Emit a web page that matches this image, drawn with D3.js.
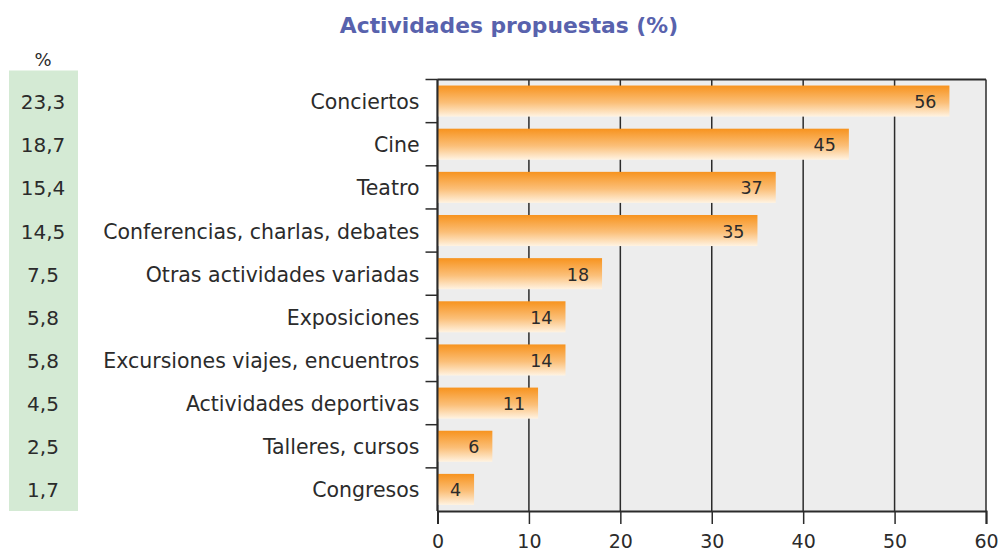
<!DOCTYPE html>
<html>
<head>
<meta charset="utf-8">
<script src="https://cdn.jsdelivr.net/npm/d3@7"></script>
<style>
  body { margin: 0; background: #fff; }
  text { font-family: "DejaVu Sans", sans-serif; fill: #2b2b2b; }
</style>
</head>
<body>
<svg id="chart" width="1003" height="555"></svg>
<script>
const categories = ["Conciertos", "Cine", "Teatro", "Conferencias, charlas, debates",
  "Otras actividades variadas", "Exposiciones", "Excursiones viajes, encuentros",
  "Actividades deportivas", "Talleres, cursos", "Congresos"];
const counts = [56, 45, 37, 35, 18, 14, 14, 11, 6, 4];
const percents = ["23,3", "18,7", "15,4", "14,5", "7,5", "5,8", "5,8", "4,5", "2,5", "1,7"];
const xTicks = [0, 10, 20, 30, 40, 50, 60];

const svg = d3.select("#chart");
const margin = {top: 79.5, left: 437.5, right: 17, bottom: 44};
const width = 1003 - margin.left - margin.right,
      height = 555 - margin.top - margin.bottom;

const xScale = d3.scaleLinear().domain([0, 60]).range([0, width]);
const yScale = d3.scaleBand().domain(categories).range([0, height]).paddingInner(0.28).paddingOuter(0.14);
const rowScale = d3.scaleBand().domain(categories).range([0, height]);

// gradient for the bars
const grad = svg.append("defs").append("linearGradient")
  .attr("id", "barGrad").attr("x1", 0).attr("y1", 0).attr("x2", 0).attr("y2", 1);
grad.append("stop").attr("offset", "0%").attr("stop-color", "#f7931e");
grad.append("stop").attr("offset", "55%").attr("stop-color", "#fbbf78");
grad.append("stop").attr("offset", "100%").attr("stop-color", "#fff3e2");

// title
svg.append("text")
  .attr("x", 509).attr("y", 33)
  .attr("text-anchor", "middle")
  .style("font-size", "21.8px").style("font-weight", "bold").style("fill", "#5862ad")
  .text("Actividades propuestas (%)");

// percent column
const colG = svg.append("g").attr("transform", "translate(0," + margin.top + ")");
colG.append("rect")
  .attr("x", 9).attr("y", -9).attr("width", 69).attr("height", height + 9)
  .attr("fill", "#d4ead4");
svg.append("text")
  .attr("x", 43).attr("y", 66).attr("text-anchor", "middle")
  .style("font-size", "18px").text("%");
colG.selectAll(".pct")
  .data(percents)
  .join("text")
  .attr("class", "pct")
  .attr("x", 43)
  .attr("y", (d, i) => rowScale(categories[i]) + rowScale.bandwidth() / 2 + 8)
  .attr("text-anchor", "middle")
  .style("font-size", "20px")
  .text(d => d);

const g = svg.append("g").attr("transform", "translate(" + margin.left + "," + margin.top + ")");

// plot background
g.append("rect").attr("width", width).attr("height", height).attr("fill", "#ededed");

// vertical grid
g.selectAll(".grid")
  .data(xTicks)
  .join("line")
  .attr("class", "grid")
  .attr("x1", d => xScale(d)).attr("x2", d => xScale(d))
  .attr("y1", 0).attr("y2", height)
  .attr("stroke", "#2b2b2b").attr("stroke-width", 1.5);

// top border
g.append("line").attr("x1", 0).attr("x2", width).attr("y1", 0).attr("y2", 0)
  .attr("stroke", "#2b2b2b").attr("stroke-width", 2);

// bars
g.selectAll(".bar")
  .data(counts)
  .join("rect")
  .attr("class", "bar")
  .attr("x", xScale(0))
  .attr("y", (d, i) => yScale(categories[i]))
  .attr("width", d => xScale(d) - xScale(0))
  .attr("height", yScale.bandwidth())
  .attr("fill", "url(#barGrad)");

g.selectAll(".val")
  .data(counts)
  .join("text")
  .attr("class", "val")
  .attr("x", d => xScale(d) - 13)
  .attr("y", (d, i) => yScale(categories[i]) + yScale.bandwidth() / 2 + 7)
  .attr("text-anchor", "end")
  .style("font-size", "17.5px")
  .text(d => d);

// y axis: ticks at row boundaries
const yAxisG = g.append("g");
yAxisG.append("line").attr("x1", 0).attr("x2", 0).attr("y1", 0).attr("y2", height)
  .attr("stroke", "#2b2b2b").attr("stroke-width", 2);
yAxisG.selectAll(".ytick")
  .data(categories)
  .join("line")
  .attr("class", "ytick")
  .attr("x1", -12).attr("x2", 0)
  .attr("y1", d => rowScale(d)).attr("y2", d => rowScale(d))
  .attr("stroke", "#2b2b2b").attr("stroke-width", 1.5);
yAxisG.selectAll(".ylab")
  .data(categories)
  .join("text")
  .attr("class", "ylab")
  .attr("x", -18)
  .attr("y", d => rowScale(d) + rowScale.bandwidth() / 2 + 8)
  .attr("text-anchor", "end")
  .style("font-size", "20.5px")
  .text(d => d);

// x axis
const xAxis = d3.axisBottom(xScale).tickValues(xTicks).tickSize(13).tickPadding(11);
const xAxisG = g.append("g").attr("transform", "translate(0," + height + ")").call(xAxis);
xAxisG.select(".domain").attr("stroke", "#2b2b2b").attr("stroke-width", 2);
xAxisG.selectAll(".tick line").attr("stroke", "#2b2b2b").attr("stroke-width", 1.5);
xAxisG.selectAll(".tick text").style("font-size", "19px").style("fill", "#2b2b2b")
  .style("font-family", "DejaVu Sans, sans-serif");
</script>
</body>
</html>
